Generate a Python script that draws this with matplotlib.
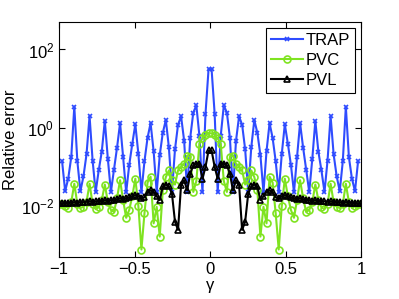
import numpy as np
import matplotlib
matplotlib.use('Agg')
import matplotlib.pyplot as plt

# grid of gamma values (100 points from -1 to 1)
gamma = np.linspace(-1, 1, 100)

# log10 of the relative error (left half then right half)
trap_log10 = [
    np.nan, -0.86, -1.62, -1.30, -0.75, 0.54, -0.86, -1.62, -1.24, -0.68,
    0.30, -0.84, -1.64, -1.09, -0.61, 0.18, -0.80, -1.64, -1.07, -0.51,
    0.12, -0.75, -1.65, -0.95, -0.41, 0.09, -0.67, -1.65, -0.85, -0.26,
    0.12, -0.60, -1.65, -0.70, -0.13, 0.20, -0.50, -1.65, -0.55, 0.08,
    0.29, -0.33, -1.65, -0.25, 0.39, 0.57, -0.20, -1.65, 0.36, 1.49,
    1.49, 0.36, -1.65, -0.20, 0.57, 0.39, -0.25, -1.65, -0.33, 0.29,
    0.08, -0.55, -1.65, -0.50, 0.20, -0.13, -0.70, -1.65, -0.60, 0.12,
    -0.26, -0.85, -1.65, -0.67, 0.09, -0.41, -0.95, -1.65, -0.75, 0.12,
    -0.51, -1.07, -1.64, -0.80, 0.18, -0.61, -1.09, -1.64, -0.84, 0.30,
    -0.68, -1.24, -1.62, -0.86, 0.54, -0.75, -1.30, -1.62, -0.86, np.nan,
]

pvc_log10 = [
    -1.95, -1.95, -2.00, -2.05, -1.90, -1.43, -1.95, -2.05, -2.02, -1.90,
    -1.43, -1.95, -2.08, -2.03, -1.85, -1.45, -1.90, -2.10, -2.15, -1.80,
    -1.34, -1.85, -2.30, -2.10, -1.75, -1.30, -2.00, -3.11, -2.18, -1.40,
    -1.25, -2.44, -2.02, -2.78, -1.60, -1.26, -1.09, -1.34, -1.45, -1.09,
    -1.00, -0.92, -0.71, -0.75, -1.64, -1.36, -0.41, -0.27, -0.18, -0.14,
    -0.14, -0.18, -0.27, -0.41, -1.36, -1.64, -0.75, -0.71, -0.92, -1.00,
    -1.09, -1.45, -1.34, -1.09, -1.26, -1.60, -2.78, -2.02, -2.44, -1.25,
    -1.40, -2.18, -3.11, -2.00, -1.30, -1.75, -2.10, -2.30, -1.85, -1.34,
    -1.80, -2.15, -2.10, -1.90, -1.45, -1.85, -2.03, -2.08, -1.95, -1.43,
    -1.90, -2.02, -2.05, -1.95, -1.43, -1.90, -2.05, -2.00, -1.95, -1.95,
]

pvl_log10 = [
    -1.93, -1.93, -1.92, -1.92, -1.91, -1.90, -1.91, -1.90, -1.90, -1.89,
    -1.88, -1.89, -1.88, -1.87, -1.87, -1.85, -1.86, -1.85, -1.84, -1.83,
    -1.80, -1.82, -1.80, -1.78, -1.75, -1.72, -1.75, -1.80, -1.78, -1.65,
    -1.60, -1.64, -1.75, -1.85, -1.50, -1.45, -1.50, -1.68, -2.40, -2.61,
    -1.45, -1.34, -1.60, -1.17, -0.96, -0.92, -0.92, -1.30, -1.00, -0.58,
    -0.58, -1.00, -1.30, -0.92, -0.92, -0.96, -1.17, -1.60, -1.34, -1.45,
    -2.61, -2.40, -1.68, -1.50, -1.45, -1.50, -1.85, -1.75, -1.64, -1.60,
    -1.65, -1.78, -1.80, -1.75, -1.72, -1.75, -1.78, -1.80, -1.82, -1.80,
    -1.83, -1.84, -1.85, -1.86, -1.85, -1.87, -1.87, -1.88, -1.89, -1.88,
    -1.89, -1.90, -1.90, -1.91, -1.90, -1.91, -1.92, -1.92, -1.93, -1.93,
]

trap = 10.0 ** np.array(trap_log10)
pvc = 10.0 ** np.array(pvc_log10)
pvl = 10.0 ** np.array(pvl_log10)

plt.rcParams['font.family'] = ['Liberation Sans', 'DejaVu Sans']
plt.rcParams['mathtext.fontset'] = 'custom'
plt.rcParams['mathtext.rm'] = 'Liberation Sans'

fig = plt.figure(figsize=(3.99, 2.99), dpi=100)
ax = fig.add_axes([0.148, 0.1405, 0.757, 0.7855])

ax.plot(gamma, trap, color='#2f4cff', lw=1.5, marker='x', ms=3.5, mew=1.2, label='TRAP')
ax.plot(gamma, pvc, color='#7fe320', lw=1.5, marker='o', ms=5, mfc='none', mew=1.2, label='PVC')
ax.plot(gamma, pvl, color='black', lw=1.5, marker='^', ms=5, mfc='none', mew=1.2, label='PVL')

ax.set_yscale('log')
ax.set_xlim(-1, 1)
ax.set_ylim(5e-4, 5e2)
ax.set_xticks([-1, -0.5, 0, 0.5, 1])
ax.set_xticklabels(['\u22121', '\u22120.5', '0', '0.5', '1'])
ax.set_yticks([1e-2, 1e0, 1e2])
ax.minorticks_off()
ax.tick_params(direction='in', top=True, right=True, length=4, labelsize=12, width=0.8)
ax.set_xlabel('\u03b3', fontsize=12, labelpad=1)
ax.set_ylabel('Relative error', fontsize=12, labelpad=2)
for s in ax.spines.values():
    s.set_linewidth(0.8)

leg = ax.legend(loc='upper right', fontsize=12, fancybox=False, edgecolor='black',
                framealpha=1, handlelength=1.9, borderpad=0.3, labelspacing=0.3,
                handletextpad=0.2, borderaxespad=0.35)
leg.get_frame().set_linewidth(0.8)

fig.savefig('out.png', dpi=100)
